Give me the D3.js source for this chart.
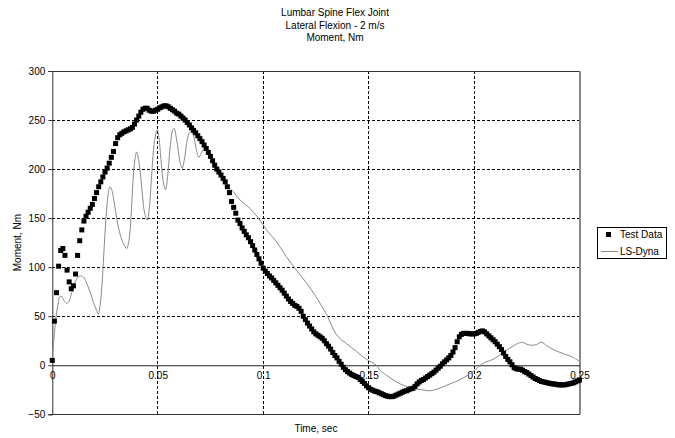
<!DOCTYPE html>
<html><head><meta charset="utf-8">
<script src="https://cdn.jsdelivr.net/npm/d3@7"></script>
<style>body{margin:0;background:#fff}svg{display:block}text{font-family:"Liberation Sans",Arial,sans-serif;font-size:10px;fill:#000}</style>
</head><body>
<svg id="c" width="675" height="438"></svg>
<script>
const titleLines = ["Lumbar Spine Flex Joint", "Lateral Flexion - 2 m/s", "Moment, Nm"];
const xTitle = "Time, sec";
const yTitle = "Moment, Nm";
const seriesNames = ["Test Data", "LS-Dyna"];
const xTicks = [0, 0.05, 0.1, 0.15, 0.2, 0.25];
const xTickLabels = ["0", "0.05", "0.1", "0.15", "0.2", "0.25"];
const yTicks = [-50, 0, 50, 100, 150, 200, 250, 300];

// Test Data: one sample every 0.001 s from 0 to 0.25 s
const testStep = 0.001;
const testValues = [
5,45,74,101,117,119,112,97,85,78,
81,93,112,127,138,147,152,156,160,164,
170,176,182,187,192,197,201,206,212,218,
226,232,235,236.5,238,239,240,241,242.5,246,
250,254,258,261,262,262,260,259,259,260,
261,262.5,263.5,264.5,264.5,263.5,262,260.5,259,257,
256,254,252,250,247.5,245,242,239.5,237,234,
231,228,224.5,221,217,213,208.5,204,200,197,
194,190.5,187,182,176,167,161,155,148,144.5,
140,136.5,133,130,126,122,117.5,113,108.5,104,
99,96,93.5,91,89,86.5,84,81.5,79,76.5,
73.5,70.5,67.5,65,63,61,60,58,55,50,
46.5,43,40,37,34,32,30.5,29,27.5,25,
22,19.5,16.5,13,10,7.5,4,1,-2,-4.5,
-6.5,-8,-9.5,-10.5,-11.5,-12.5,-14.5,-16.5,-18.5,-21,
-23,-24.5,-25.5,-26.5,-27,-28,-29,-30,-31,-31.5,
-32,-32,-31.5,-30.5,-29.5,-28.5,-27.5,-26.5,-26,-25,
-24,-23.5,-21.5,-19,-17,-15.5,-14.5,-13,-11.5,-10,
-8.5,-7,-5,-3,-1,1.5,3.5,5.5,7.5,10,
13.5,18,24,29,31.5,32.5,32.5,32.5,32,32,
32,32.5,33.5,34.5,35,34,32,30,28,26,
24,21.5,19,16,12.5,9,6,3.5,0.5,-2.5,
-3.5,-4,-4,-5,-6.5,-7.5,-9,-10.5,-12,-13.5,
-14.5,-15.5,-16.5,-17,-17.5,-18,-18.5,-19,-19,-19.5,
-20,-20,-20,-20,-19.5,-19,-18.5,-18,-17,-16,
-15];

// LS-Dyna simulation curve
const dynaTimes = [
0,0.0007,0.0013,0.002,0.0028,0.0036,0.0045,0.0055,0.0068,0.0078,
0.009,0.010,0.0115,0.013,0.0147,0.016,0.017,0.0185,0.0195,0.021,
0.0218,0.0226,0.0235,0.0242,0.025,0.0258,0.0266,0.0273,0.028,0.0289,
0.030,0.0313,0.0325,0.0337,0.0353,0.0362,0.037,0.0377,0.0384,0.0392,
0.040,0.0408,0.0418,0.0428,0.0438,0.045,0.046,0.047,0.048,0.0491,
0.0498,0.0506,0.0515,0.0527,0.0537,0.0548,0.056,0.0571,0.0578,0.0588,
0.0598,0.0608,0.0616,0.0628,0.064,0.065,0.066,0.0672,0.0684,0.0695,
0.0706,0.0716,0.0727,0.074,0.0765,0.079,0.0815,0.083,0.0845,0.0858,
0.089,0.0937,0.0984,0.1016,0.1063,0.111,0.1158,0.1205,0.125,0.13,
0.1348,0.1395,0.1443,0.149,0.1537,0.1553,0.159,0.1632,0.1671,0.1711,
0.175,0.179,0.1828,0.1869,0.191,0.1948,0.1995,0.2043,0.209,0.2138,
0.2185,0.2217,0.2232,0.2264,0.2295,0.2319,0.2345,0.2375,0.2422,0.2465,
0.25];
const dynaValues = [
5,25,40,53,63,70,70,66,63,65,
72,80,88,91,90,85,80,71,64,56,
52,60,80,105,135,160,176,182,180,172,
157,141,131,124,119,125,140,165,192,210,
217.5,211,195,172,155,148,160,190,220,236,
240,232,210,186,179,195,225,240,241.5,232,
218,205,201,212,230,237,238,232,219,212,
216,220,223,217,206,195,186,181,179.5,177,
168.5,160,148,138,126,110.7,97,84,70,52,
31,22,14,6,0,-5,-11,-17,-21,-23.5,
-25,-26,-24,-20.5,-17,-13,-6.5,2,6,13,
19.5,23,23,20.5,21,23.5,20,16,12,8.5,
4];

const svg = d3.select("#c");
const x = d3.scaleLinear().domain([0, 0.25]).range([52.3, 579.5]);
const y = d3.scaleLinear().domain([-50, 300]).range([414.3, 71]);
const L = x.range()[0], R = x.range()[1], T = y.range()[1], B = y.range()[0];

// gridlines
svg.append("g").selectAll("line").data(yTicks.filter(v => v !== 0 && v !== 300 && v !== -50)).join("line")
  .attr("x1", L).attr("x2", R).attr("y1", d => y(d)).attr("y2", d => y(d))
  .attr("stroke", "#000").attr("stroke-width", 1).attr("stroke-dasharray", "3,2").attr("shape-rendering", "crispEdges");
svg.append("g").selectAll("line").data(xTicks.filter(v => v !== 0 && v !== 0.25)).join("line")
  .attr("x1", d => x(d)).attr("x2", d => x(d)).attr("y1", T).attr("y2", B)
  .attr("stroke", "#000").attr("stroke-width", 1).attr("stroke-dasharray", "3,2").attr("shape-rendering", "crispEdges");

// frame
svg.append("line").attr("x1", L).attr("x2", R).attr("y1", T).attr("y2", T).attr("stroke", "#333").attr("shape-rendering", "crispEdges");
svg.append("line").attr("x1", L).attr("x2", R).attr("y1", B).attr("y2", B).attr("stroke", "#333").attr("shape-rendering", "crispEdges");
svg.append("line").attr("x1", R).attr("x2", R).attr("y1", T).attr("y2", B).attr("stroke", "#888").attr("stroke-width", 2).attr("shape-rendering", "crispEdges");

// y axis
const yAxis = d3.axisLeft(y).tickValues(yTicks).tickSize(4).tickPadding(3).tickFormat(d3.format("d"));
const gy = svg.append("g").attr("transform", `translate(${L},0)`).call(yAxis);
gy.select(".domain").attr("stroke", "#333");
gy.selectAll(".tick line").attr("stroke", "#333");
gy.selectAll("text").style("font-family", '"Liberation Sans",Arial,sans-serif').style("font-size", "10px").attr("fill", "#000");

// x axis at zero
const xAxis = d3.axisBottom(x).tickValues(xTicks).tickSize(0).tickPadding(7).tickFormat((d, i) => xTickLabels[i]);
const gx = svg.append("g").attr("transform", `translate(0,${y(0)})`).call(xAxis);
gx.select(".domain").attr("stroke", "#222");
gx.selectAll("text").style("font-family", '"Liberation Sans",Arial,sans-serif').style("font-size", "10px").attr("fill", "#000");

// LS-Dyna line
const dyna = dynaTimes.map((t, i) => [t, dynaValues[i]]);
svg.append("path").datum(dyna)
  .attr("d", d3.line().x(d => x(d[0])).y(d => y(d[1])).curve(d3.curveCatmullRom.alpha(0.5)))
  .attr("fill", "none").attr("stroke", "#8a8a8a").attr("stroke-width", 1);

// Test data markers
const test = testValues.map((v, i) => [i * testStep, v]);
svg.append("g").selectAll("rect").data(test).join("rect")
  .attr("x", d => x(d[0]) - 2.5).attr("y", d => y(d[1]) - 2.5)
  .attr("width", 5).attr("height", 5).attr("fill", "#000");

// titles
svg.append("g").selectAll("text").data(titleLines).join("text")
  .attr("x", 335).attr("y", (d, i) => 16 + i * 12.5).attr("text-anchor", "middle").text(d => d);
svg.append("text").attr("x", (L + R) / 2).attr("y", 432).attr("text-anchor", "middle").text(xTitle);
svg.append("text").attr("transform", `translate(21,${(T + B) / 2}) rotate(-90)`).attr("text-anchor", "middle").text(yTitle);

// legend
const lg = svg.append("g").attr("transform", "translate(597,227)");
lg.append("rect").attr("width", 69).attr("height", 31).attr("fill", "#fff").attr("stroke", "#000").attr("shape-rendering", "crispEdges");
lg.append("rect").attr("x", 9).attr("y", 5).attr("width", 5).attr("height", 5).attr("fill", "#000");
lg.append("line").attr("x1", 4).attr("x2", 21).attr("y1", 24.5).attr("y2", 24.5).attr("stroke", "#8a8a8a");
lg.selectAll("text.l").data(seriesNames).join("text").attr("class", "l")
  .attr("x", 23).attr("y", (d, i) => 11 + i * 17).text(d => d);
</script>
</body></html>
